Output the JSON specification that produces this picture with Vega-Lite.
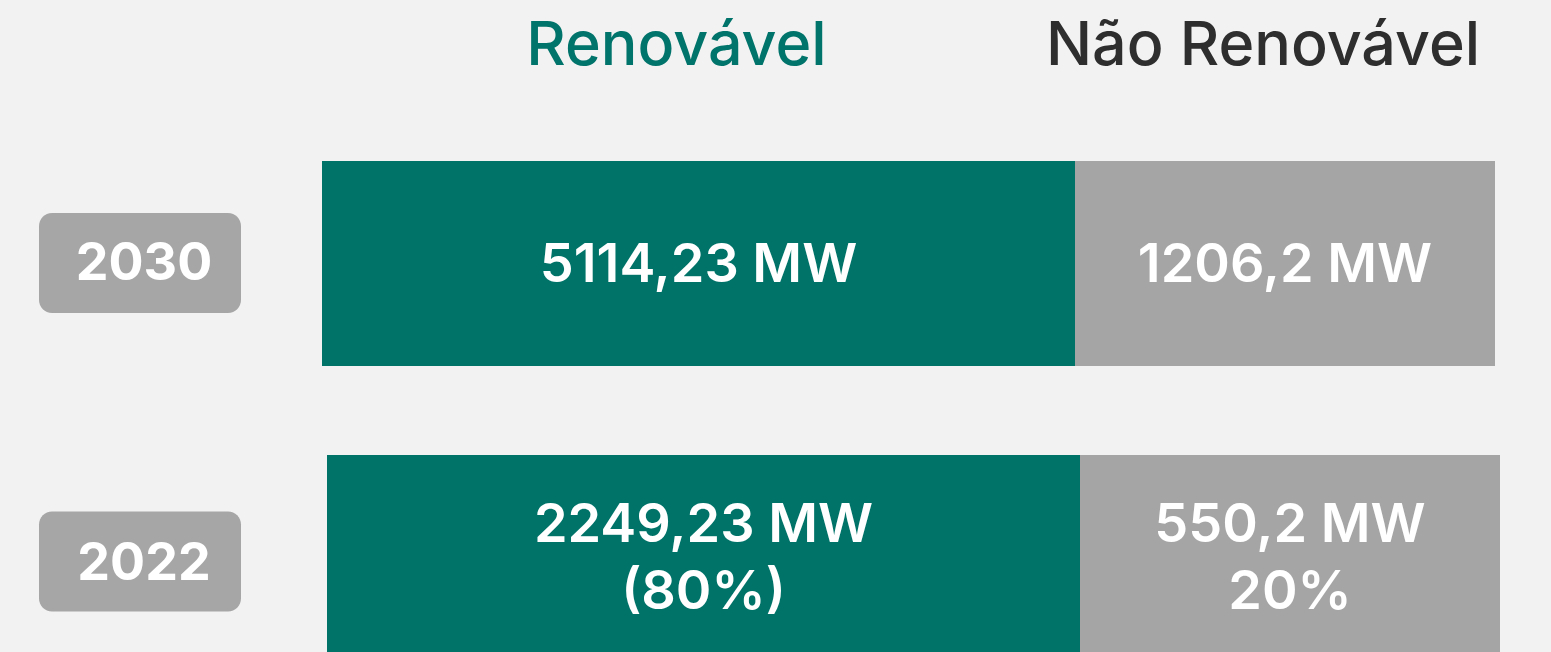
{
  "$schema": "https://vega.github.io/schema/vega-lite/v6.json",
  "width": 1551,
  "height": 652,
  "autosize": "none",
  "padding": 0,
  "background": "#f2f2f2",
  "config": {"view": {"stroke": null}, "font": "Inter"},
  "data": {
    "values": [
      {"ano": "2030", "tipo": "Renovável", "valor": 5114.23, "rotulo": ["5114,23 MW"]},
      {"ano": "2030", "tipo": "Não Renovável", "valor": 1206.2, "rotulo": ["1206,2 MW"]},
      {"ano": "2022", "tipo": "Renovável", "valor": 2249.23, "rotulo": ["2249,23 MW", "(80%)"]},
      {"ano": "2022", "tipo": "Não Renovável", "valor": 550.2, "rotulo": ["550,2 MW", "20%"]}
    ]
  },
  "layer": [
    {
      "transform": [{"filter": "datum.tipo == 'Renovável'"}],
      "mark": {"type": "rect", "width": 753, "height": 205},
      "encoding": {
        "x": {"field": "tipo", "type": "nominal", "scale": {"type": "point", "padding": 0, "domain": ["Renovável", "Não Renovável"], "range": [698.5, 1285]}, "axis": null},
        "xOffset": {"field": "ano", "type": "nominal", "scale": {"type": "point", "padding": 0, "domain": ["2030", "2022"], "range": [0, 5]}},
        "y": {"field": "ano", "type": "nominal", "scale": {"type": "point", "padding": 0, "domain": ["2030", "2022"], "range": [263.5, 557.5]}, "axis": null},
        "color": {"field": "tipo", "type": "nominal", "scale": {"domain": ["Renovável", "Não Renovável"], "range": ["#007369", "#a5a5a5"]}, "legend": null}
      }
    },
    {
      "transform": [{"filter": "datum.tipo == 'Não Renovável'"}],
      "mark": {"type": "rect", "width": 420, "height": 205},
      "encoding": {
        "x": {"field": "tipo", "type": "nominal", "scale": {"type": "point", "padding": 0, "domain": ["Renovável", "Não Renovável"], "range": [698.5, 1285]}, "axis": null},
        "xOffset": {"field": "ano", "type": "nominal", "scale": {"type": "point", "padding": 0, "domain": ["2030", "2022"], "range": [0, 5]}},
        "y": {"field": "ano", "type": "nominal", "scale": {"type": "point", "padding": 0, "domain": ["2030", "2022"], "range": [263.5, 557.5]}, "axis": null},
        "color": {"field": "tipo", "type": "nominal", "scale": {"domain": ["Renovável", "Não Renovável"], "range": ["#007369", "#a5a5a5"]}, "legend": null}
      }
    },
    {
      "mark": {"type": "text", "fontSize": 54, "fontWeight": 600, "color": "#ffffff", "baseline": "middle", "align": "center", "lineHeight": 67, "dy": 2},
      "encoding": {
        "x": {"field": "tipo", "type": "nominal", "scale": {"type": "point", "padding": 0, "domain": ["Renovável", "Não Renovável"], "range": [698.5, 1285]}, "axis": null},
        "xOffset": {"field": "ano", "type": "nominal", "scale": {"type": "point", "padding": 0, "domain": ["2030", "2022"], "range": [0, 5]}},
        "y": {"field": "ano", "type": "nominal", "scale": {"type": "point", "padding": 0, "domain": ["2030", "2022"], "range": [263.5, 524]}, "axis": null},
        "text": {"field": "rotulo"}
      }
    },
    {
      "transform": [{"filter": "datum.tipo == 'Renovável'"}],
      "mark": {"type": "rect", "height": 100, "cornerRadius": 13, "color": "#a6a6a6"},
      "encoding": {
        "x": {"value": 39},
        "x2": {"value": 241},
        "y": {"field": "ano", "type": "nominal", "scale": {"type": "point", "padding": 0, "domain": ["2030", "2022"], "range": [263, 561.5]}, "axis": null}
      }
    },
    {
      "transform": [{"filter": "datum.tipo == 'Renovável'"}],
      "mark": {"type": "text", "fontSize": 52, "fontWeight": 700, "color": "#ffffff", "baseline": "middle", "align": "center", "dy": 1},
      "encoding": {
        "x": {"value": 144},
        "y": {"field": "ano", "type": "nominal", "scale": {"type": "point", "padding": 0, "domain": ["2030", "2022"], "range": [263, 562.5]}, "axis": null},
        "text": {"field": "ano"}
      }
    },
    {
      "transform": [{"filter": "datum.ano == '2030'"}],
      "mark": {"type": "text", "fontSize": 61, "fontWeight": 500, "baseline": "alphabetic", "align": "center", "dx": -22},
      "encoding": {
        "x": {"field": "tipo", "type": "nominal", "scale": {"type": "point", "padding": 0, "domain": ["Renovável", "Não Renovável"], "range": [698.5, 1285]}, "axis": null},
        "y": {"value": 65},
        "text": {"field": "tipo"},
        "color": {"field": "tipo", "type": "nominal", "scale": {"domain": ["Renovável", "Não Renovável"], "range": ["#00736a", "#2e2e2e"]}, "legend": null}
      }
    }
  ],
  "resolve": {"scale": {"color": "independent", "y": "independent", "xOffset": "independent"}}
}
